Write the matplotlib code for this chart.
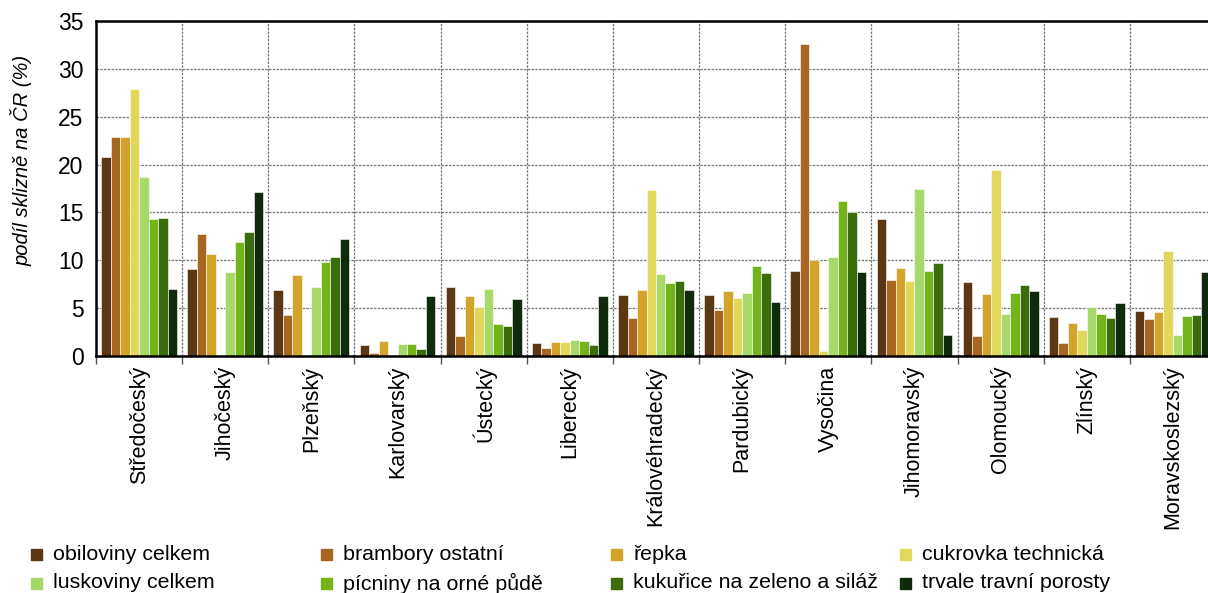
import numpy as np
import matplotlib
matplotlib.use("Agg")
import matplotlib.pyplot as plt
from matplotlib.patches import Rectangle

plt.rcParams['font.family'] = ['Liberation Sans', 'DejaVu Sans']

# regions (kraje)
regions = ["Středočeský", "Jihočeský", "Plzeňský", "Karlovarský", "Ústecký",
           "Liberecký", "Královéhradecký", "Pardubický", "Vysočina",
           "Jihomoravský", "Olomoucký", "Zlínský", "Moravskoslezský"]

series_names = ["obiloviny celkem", "brambory ostatní", "řepka",
                "cukrovka technická", "luskoviny celkem",
                "pícniny na orné půdě", "kukuřice na zeleno a siláž",
                "trvale travní porosty"]

obiloviny = [20.8, 9.1, 6.9, 1.2, 7.2, 1.4, 6.4, 6.4, 8.9, 14.3, 7.7, 4.1, 4.7]
brambory = [22.9, 12.7, 4.3, 0.3, 2.1, 0.8, 4.0, 4.8, 32.6, 7.9, 2.1, 1.4, 3.9]
repka = [22.9, 10.7, 8.5, 1.6, 6.3, 1.5, 6.9, 6.8, 10.0, 9.2, 6.5, 3.5, 4.6]
cukrovka = [27.9, 0.0, 0.0, 0.0, 5.1, 1.5, 17.3, 6.1, 0.5, 7.8, 19.4, 2.7, 11.0]
luskoviny = [18.7, 8.8, 7.2, 1.25, 7.0, 1.7, 8.6, 6.6, 10.3, 17.4, 4.4, 5.1, 2.2]
picniny = [14.3, 11.9, 9.8, 1.25, 3.3, 1.6, 7.6, 9.4, 16.2, 8.9, 6.6, 4.4, 4.2]
kukurice = [14.4, 13.0, 10.3, 0.7, 3.1, 1.2, 7.8, 8.7, 15.0, 9.7, 7.4, 4.0, 4.3]
ttp = [7.0, 17.1, 12.2, 6.3, 6.0, 6.3, 6.9, 5.6, 8.8, 2.2, 6.8, 5.5, 8.8]

values = [obiloviny, brambory, repka, cukrovka, luskoviny, picniny, kukurice, ttp]
colors = ["#5B3813", "#A86720", "#D3A42A", "#E1D75A",
          "#A6D96A", "#72B41A", "#3B6D0C", "#0F2A0D"]

W, H = 1208, 593
fig = plt.figure(figsize=(W / 100, H / 100), dpi=100)
ax = fig.add_axes([96 / W, 1 - 356 / H, 1120 / W, 335 / H])

x = np.arange(len(regions))
bw = 0.11
for i, (vals, col) in enumerate(zip(values, colors)):
    ax.bar(x + (i - 3.5) * bw, vals, bw, color=col, edgecolor="white",
           linewidth=0.4, zorder=3)

ax.set_xlim(-0.5, len(regions) - 0.5)
ax.set_ylim(0, 35)
ax.set_yticks(np.arange(0, 36, 5))
ax.set_xticks(x)
ax.set_xticklabels(regions, rotation=90, fontsize=15.5, va="top")
ax.set_xticks(np.arange(-0.5, len(regions), 1), minor=True)
ax.tick_params(axis="x", which="major", length=0, pad=7)
ax.tick_params(axis="x", which="minor", length=6, width=1, color="#555555")
ax.tick_params(axis="y", length=0, labelsize=16.5, pad=9)

ax.grid(axis="y", which="major", color="#777777", linestyle=(0, (2, 1)),
        linewidth=0.9, zorder=0)
ax.grid(axis="x", which="minor", color="#777777", linestyle=(0, (2, 1)),
        linewidth=0.9, zorder=0)

for s in ["left", "top", "bottom"]:
    ax.spines[s].set_linewidth(1.8)
    ax.spines[s].set_zorder(4)
ax.spines["right"].set_visible(False)

ax.set_ylabel("podíl sklizně na ČR (%)", fontsize=14.5, style="italic")
ax.yaxis.set_label_coords((33 - 96) / 1120, (356 - 160) / 335)

# legend, laid out on a 4 x 2 grid like the source
col_x = [31, 321, 611, 900]
row_y = [554, 583]
for k, (name, col) in enumerate(zip(series_names, colors)):
    cx = col_x[k % 4]
    cy = row_y[k // 4]
    fig.patches.append(Rectangle((cx / W, 1 - (cy + 5.5) / H), 11 / W,
                                 11 / H, transform=fig.transFigure,
                                 color=col))
    fig.text((cx + 22) / W, 1 - cy / H, name, fontsize=15.4,
             va="center", ha="left")

fig.savefig("out.png", dpi=100)
